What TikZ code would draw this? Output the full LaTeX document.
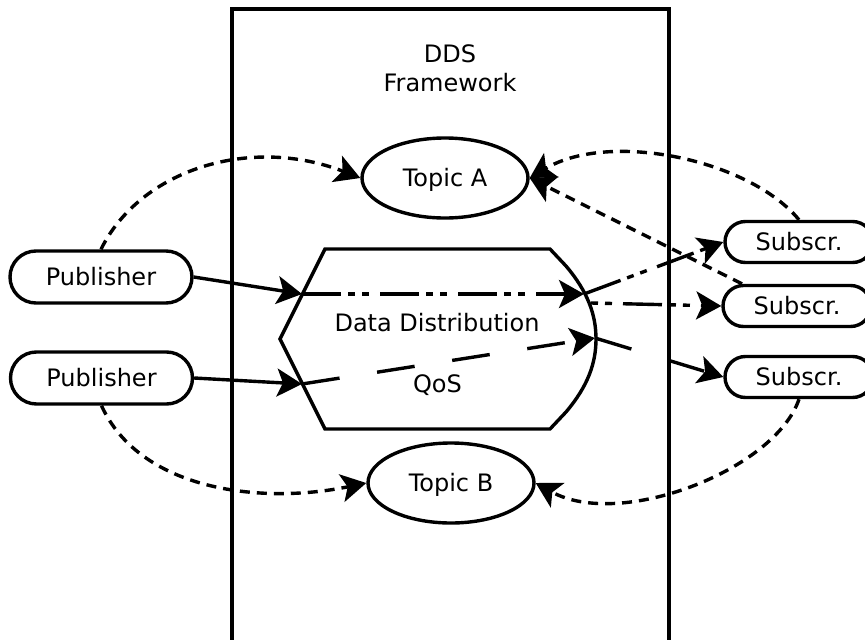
\documentclass[tikz,border=0pt]{standalone}
\usepackage{fontspec}
\setmainfont{DejaVu Sans}
\usetikzlibrary{shapes.geometric,shapes.misc,arrows.meta}

\begin{document}
\begin{tikzpicture}[x=1pt,y=-1pt,
  every node/.style={font=\fontsize{24}{29}\selectfont},
  ln/.style={line width=3.4pt},
  lbl/.style={inner sep=0pt, text height=17.5pt, text depth=0pt},
  pill/.style={ln, draw, rounded rectangle, inner sep=0pt, text height=17.5pt, text depth=0pt},
  pub/.style={pill, minimum width=182pt, minimum height=52pt},
  sub/.style={pill, minimum width=148pt, minimum height=41pt},
  topic/.style={ln, draw, ellipse, minimum width=166pt, minimum height=80pt,
    inner sep=0pt, text height=17.5pt, text depth=0pt},
  tip/.style={-{Stealth[length=25pt,width=28pt,inset=6pt]}},
  flow/.style={ln, tip},
  hint/.style={ln, tip, dash pattern=on 10pt off 7pt},
  dashdotflow/.style={ln, tip, dash pattern=on 39pt off 7pt on 7pt off 7pt on 7pt off 11pt},
  longdash/.style={ln, tip, dash pattern=on 38pt off 38pt},
]
\useasboundingbox (0,0) rectangle (865,640);
\clip (0,0) rectangle (865,640);

% framework box (open at the bottom edge)
\draw[ln] (232,640) -- (232,9) -- (669,9) -- (669,640);
\node[align=center, inner sep=0pt] (title) at (450,68) {DDS\\Framework};

% data distribution block
\draw[ln, line join=miter] (325,249) -- (550,249) -- (566,266)
  .. controls (588,292) and (596,315) .. (596,339)
  .. controls (596,363) and (588,386) .. (566,412)
  -- (550,429) -- (325,429) -- (280,339) -- cycle;
\node[lbl] (dd) at (437,323) {Data Distribution};
\node[lbl] (qos) at (437.5,384) {QoS};

\coordinate (dIn1) at (302,294);
\coordinate (dIn2) at (302,384);
\coordinate (dOut1) at (584,294);
\coordinate (dOut1b) at (591,303);
\coordinate (dOut2) at (595,338);

% topics
\node[topic] (topicA) at (445,178) {Topic A};
\node[topic] (topicB) at (451,483) {Topic B};

% publishers and subscribers
\node[pub] (pub1) at (101,277) {Publisher};
\node[pub] (pub2) at (101.5,378) {Publisher};
\node[sub] (sub1) at (799,242) {Subscr.};
\node[sub] (sub2) at (797,306) {Subscr.};
\node[sub] (sub3) at (799,377) {Subscr.};

% data flows
\draw[flow] (pub1.east) -- (dIn1);
\draw[flow] (pub2.east) -- (dIn2);
\draw[dashdotflow] (dIn1) -- (dOut1);
\draw[dashdotflow] (dOut1) -- (sub1.west);
\draw[dashdotflow, dash phase=46pt] (dOut1b) -- (sub2.west);
\draw[longdash] (dIn2) -- (dOut2);
\draw[longdash] (dOut2) -- (sub3.west);

% topic associations
\draw[hint] (pub1.north) .. controls (140,170) and (250,135) .. (topicA.west);
\draw[hint] (pub2.south) .. controls (140,490) and (260,505) .. (topicB.west);
\draw[hint] (sub1.north) .. controls (750,160) and (610,130) .. (topicA.east);
\draw[hint] ([xshift=-55pt]sub2.north) -- (topicA.east);
\draw[hint] (sub3.south) .. controls (775,470) and (620,530) .. (topicB.east);
\end{tikzpicture}
\end{document}
